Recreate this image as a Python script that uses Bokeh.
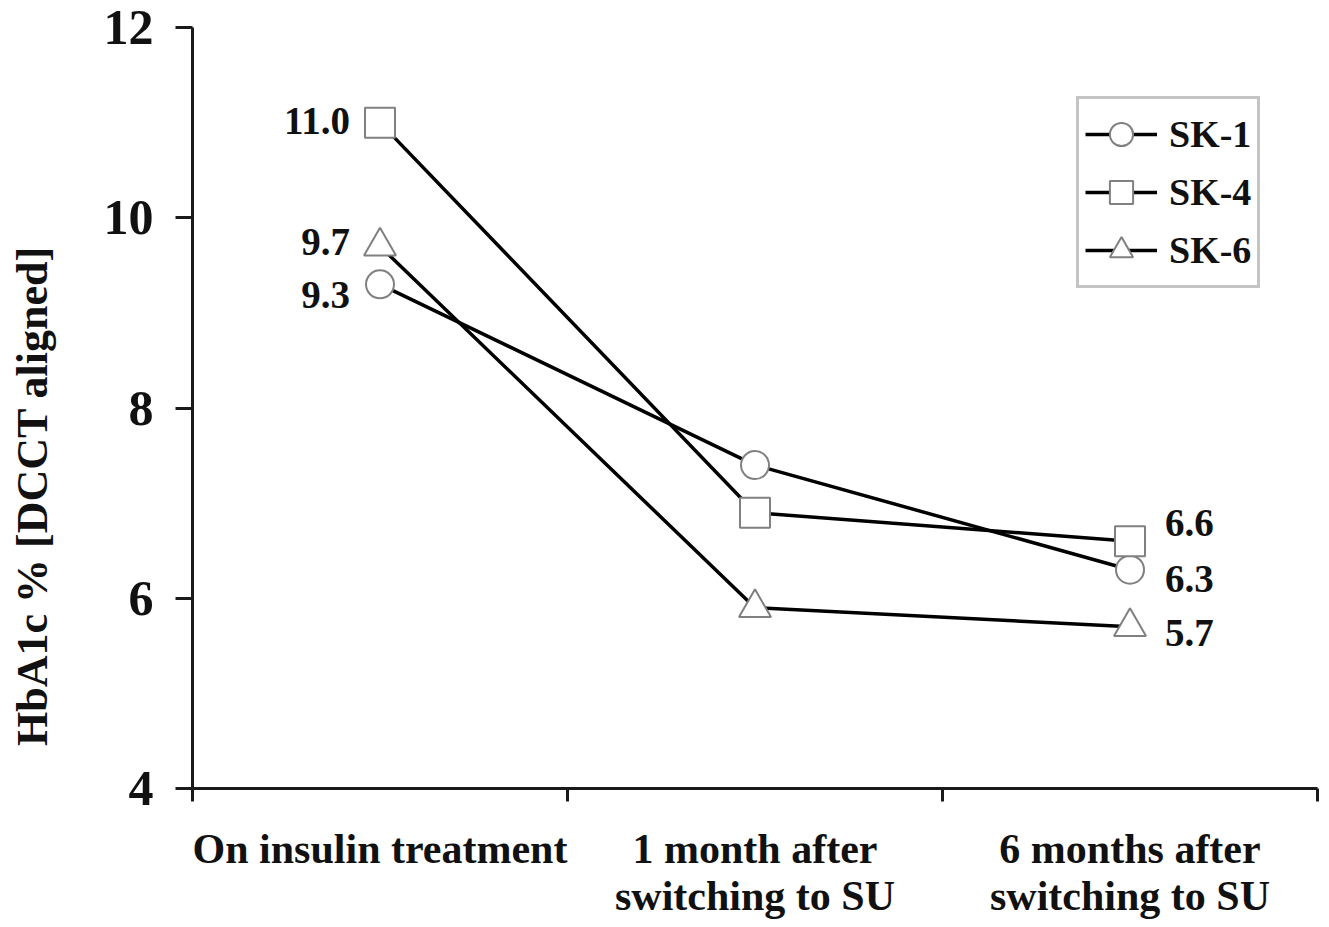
from bokeh.plotting import figure
from bokeh.models import (Range1d, FixedTicker, Legend, LegendItem,
                          ColumnDataSource)
from bokeh.core.properties import value
from bokeh.embed import file_html
from bokeh.resources import INLINE

# ---- data ----
categories = ["On insulin treatment", "1 month after\nswitching to SU", "6 months after\nswitching to SU"]
series_names = ["SK-1", "SK-4", "SK-6"]
sk1 = [9.3, 7.4, 6.3]
sk4 = [11.0, 6.9, 6.6]
sk6 = [9.7, 5.9, 5.7]
y_ticks = [4, 6, 8, 10, 12]
y_title = "HbA1c % [DCCT aligned]"

FONT = "Liberation Serif"
x_pos = [i + 0.5 for i in range(len(categories))]

p = figure(width=1329, height=927, output_backend="svg", toolbar_location=None,
           x_range=Range1d(0, 3), y_range=Range1d(4, 12),
           min_border_left=192, min_border_right=12, min_border_top=27,
           min_border_bottom=139)
p.outline_line_color = None
p.grid.visible = False
p.background_fill_color = "white"

# axes
xa = p.xaxis[0]
xa.ticker = FixedTicker(ticks=x_pos, minor_ticks=[0, 1, 2, 3])
xa.major_label_overrides = {x: c for x, c in zip(x_pos, categories)}
xa.major_tick_line_color = None
xa.major_tick_out = 0
xa.major_tick_in = 0
xa.minor_tick_line_color = "#1a1a1a"
xa.minor_tick_line_width = 3
xa.minor_tick_out = 13
xa.minor_tick_in = 0
xa.axis_line_color = "#1a1a1a"
xa.axis_line_width = 3
xa.major_label_text_font = FONT
xa.major_label_text_font_style = "bold"
xa.major_label_text_font_size = "42px"
xa.major_label_text_color = "#111111"
xa.major_label_text_line_height = 1.03
xa.major_label_standoff = 24

ya = p.yaxis[0]
ya.ticker = FixedTicker(ticks=y_ticks, minor_ticks=[])
ya.major_tick_line_color = "#1a1a1a"
ya.major_tick_line_width = 3
ya.major_tick_out = 17
ya.major_tick_in = 0
ya.minor_tick_line_color = None
ya.axis_line_color = "#1a1a1a"
ya.axis_line_width = 3
ya.major_label_text_font = FONT
ya.major_label_text_font_style = "bold"
ya.major_label_text_font_size = "50px"
ya.major_label_text_color = "#111111"
ya.major_label_standoff = 22
# trailing no-break spaces push the visible title below the axis middle,
# as in the original
ya.axis_label = y_title + "\u00a0" * 16
ya.axis_label_standoff = 44
ya.axis_label_text_font = FONT
ya.axis_label_text_font_style = "bold"
ya.axis_label_text_font_size = "44px"
ya.axis_label_text_color = "#111111"

# series
markers = ["circle", "square", "triangle"]
msizes = [28, 30, 32]
series = [sk1, sk4, sk6]
items = []
for name, vals, mk, ms in zip(series_names, series, markers, msizes):
    src = ColumnDataSource(dict(x=x_pos, y=vals))
    ln = p.line("x", "y", source=src, line_color="black", line_width=3.5)
    sc = p.scatter("x", "y", source=src, marker=mk, size=ms, fill_color="white",
                   line_color="#808080", line_width=2)
    items.append(LegendItem(label=name, renderers=[ln, sc]))

# value labels (order: SK-1, SK-4, SK-6)
first_vals = [s[0] for s in series]
last_vals = [s[-1] for s in series]
first_dy = [11, -2, -4]
last_dy = [9, -18, 6]
p.text(x=[x_pos[0]] * 3, y=first_vals, text=[f"{v:.1f}" for v in first_vals],
       x_offset=-30, y_offset=first_dy,
       text_align="right", text_baseline="middle",
       text_font=value(FONT), text_font_style="bold", text_font_size="39px",
       text_color="#111111")
p.text(x=[x_pos[-1]] * 3, y=last_vals, text=[f"{v:.1f}" for v in last_vals],
       x_offset=35, y_offset=last_dy,
       text_align="left", text_baseline="middle",
       text_font=value(FONT), text_font_style="bold", text_font_size="39px",
       text_color="#111111")

legend = Legend(items=items, location=(884, 500), orientation="vertical",
                padding=6, spacing=0, margin=0, glyph_height=58, glyph_width=72,
                label_standoff=12, label_text_font=FONT, label_text_font_style="bold",
                label_text_font_size="38px", label_text_color="#111111",
                label_text_baseline="middle",
                border_line_color="#8a8a8a", border_line_width=3,
                background_fill_color="white", background_fill_alpha=1.0)
p.add_layout(legend, "center")

open("out.html", "w").write(file_html(p, INLINE))
